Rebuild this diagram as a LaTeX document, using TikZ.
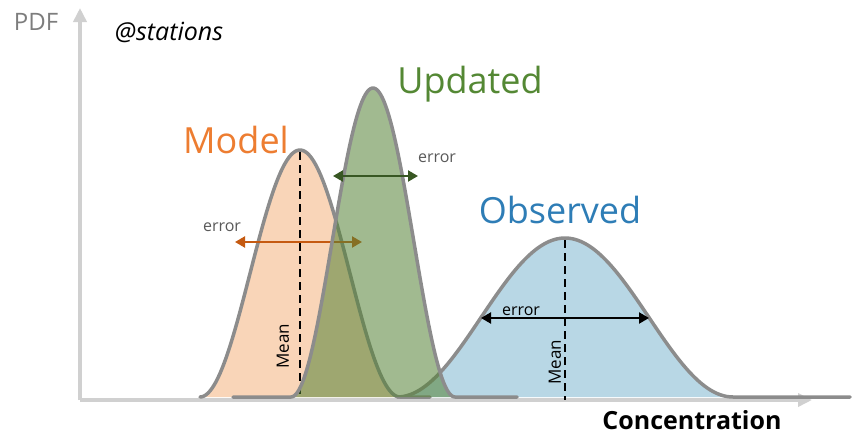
\documentclass[tikz,border=0pt]{standalone}
\usepackage{fontspec}
\setmainfont{Open Sans}
\usetikzlibrary{arrows.meta}

\definecolor{axisgray}{RGB}{208,208,208}
\definecolor{outline}{RGB}{140,140,140}
\definecolor{modelfill}{RGB}{249,213,184}
\definecolor{modeltext}{RGB}{237,125,49}
\definecolor{modelarrow}{RGB}{197,90,17}
\definecolor{updfill}{RGB}{84,130,53}
\definecolor{updtext}{RGB}{84,136,52}
\definecolor{updarrow}{RGB}{56,87,35}
\definecolor{obsfill}{RGB}{184,215,229}
\definecolor{obstext}{RGB}{46,125,182}
\definecolor{labelgray}{RGB}{89,89,89}
\definecolor{pdfgray}{RGB}{125,125,125}

% cosine bell profiles: base line, height, centre, half width
\newcommand\modelbell[1]{397-247*(1+cos((#1-300)/100*180))/2}
\newcommand\updbell[1]{397-309*(1+cos((#1-373)/82*180))/2}
\newcommand\obsbell[1]{397-159*(1+cos((#1-565)/168*180))/2}

\begin{document}
\begin{tikzpicture}[x=1pt,y=-1pt,
  curve/.style={draw=outline, line width=3.5pt, line join=round, line cap=round},
  errarrow/.style={line width=2.2pt,
    {Triangle[length=10pt,width=11pt]}-{Triangle[length=10pt,width=11pt]}},
  meanline/.style={black, line width=1.8pt, dash pattern=on 8pt off 5pt},
  axisline/.style={axisgray, line width=3.5pt, -{Triangle[length=14pt,width=13pt]}},
  bigword/.style={anchor=base, font=\fontsize{36}{36}\selectfont},
  errword/.style={anchor=base, font=\fontsize{16}{16}\selectfont},
  meanword/.style={rotate=90, font=\fontsize{17}{17}\selectfont, text=black}]
\useasboundingbox (0,0) rectangle (852,434);

% axes
\coordinate (origin) at (80,400);
\coordinate (ytip) at (80,8);
\coordinate (xtip) at (812,400);
\draw[axisline] (origin) -- (ytip);
\draw[axisline] (origin) -- (xtip);

% observed distribution
\fill[obsfill] (397,397) -- plot[domain=397:733,samples=120] (\x,{\obsbell{\x}}) -- (850,397) -- cycle;
\draw[curve] plot[domain=397:733,samples=120] (\x,{\obsbell{\x}}) -- (850,397);

% model distribution
\fill[modelfill] plot[domain=200:400,samples=100] (\x,{\modelbell{\x}}) -- (430,397) -- cycle;
\draw[curve] plot[domain=200:400,samples=100] (\x,{\modelbell{\x}}) -- (430,397);
\coordinate (mtop) at (300,152);
\coordinate (mbot) at (300,398);
\draw[meanline] (mtop) -- (mbot);
\coordinate (ml) at (235,242);
\coordinate (mr) at (362,242);
\draw[errarrow, modelarrow] (ml) -- (mr);

% updated distribution, translucent over the model
\fill[updfill, fill opacity=0.55] plot[domain=291:455,samples=100] (\x,{\updbell{\x}}) -- cycle;
\draw[curve] (233,397) -- plot[domain=291:455,samples=100] (\x,{\updbell{\x}}) -- (517,397);
\coordinate (ul) at (333,176);
\coordinate (ur) at (418,176);
\draw[errarrow, updarrow] (ul) -- (ur);

% observed spread and mean
\coordinate (otop) at (565,240);
\coordinate (obot) at (565,400);
\draw[meanline] (otop) -- (obot);
\coordinate (ol) at (481,318);
\coordinate (or) at (649,318);
\draw[errarrow, black] (ol) -- (or);

% labels
\node[anchor=base, text=pdfgray, font=\fontsize{24}{24}\selectfont] (pdf) at (36,30) {PDF};
\node[anchor=base, font=\itshape\fontsize{25}{25}\selectfont] (stations) at (169,40) {@stations};
\node[bigword, text=modeltext] (model) at (236,153) {Model};
\node[bigword, text=updtext] (updated) at (470,93) {Updated};
\node[bigword, text=obstext] (observed) at (560,223) {Observed};
\node[anchor=base, font=\bfseries\fontsize{25}{25}\selectfont] (conc) at (692,429) {Concentration};
\node[errword, text=labelgray] (merr) at (222,231) {error};
\node[errword, text=labelgray] (uerr) at (437,162) {error};
\node[errword, text=black] (oerr) at (521,315) {error};
\node[meanword] (mmean) at (283,346) {Mean};
\node[meanword] (omean) at (555,362) {Mean};
\end{tikzpicture}
\end{document}
